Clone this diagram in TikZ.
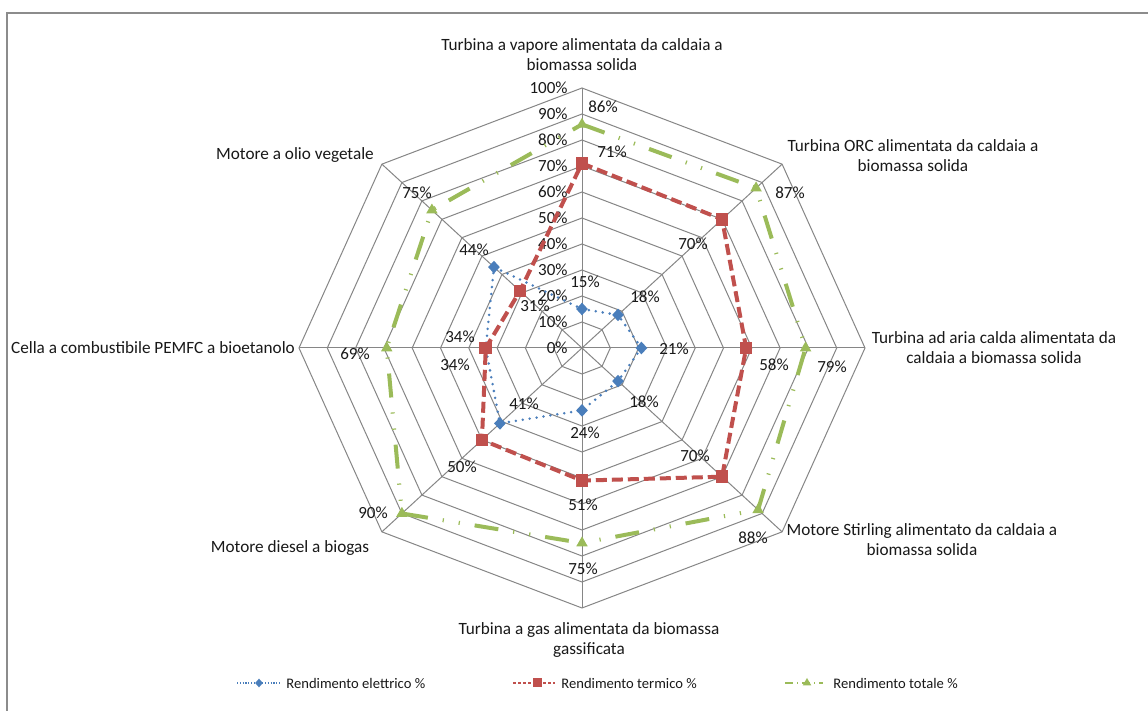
\documentclass[tikz,border=0pt]{standalone}
\usepackage{fontspec}
\setmainfont{Carlito}
\usetikzlibrary{shapes.geometric}

\definecolor{gridgray}{RGB}{134,134,134}
\definecolor{framegray}{RGB}{140,140,140}
\definecolor{elblue}{RGB}{74,126,187}
\definecolor{thred}{RGB}{192,80,77}
\definecolor{totgreen}{RGB}{155,187,89}
\definecolor{txt}{RGB}{25,25,25}

\tikzset{
  gridline/.style={draw=gridgray, line width=0.5pt},
  frameline/.style={draw=framegray, line width=0.8pt},
  elline/.style={draw=elblue, line width=1.4pt, line cap=round, dash pattern=on 0pt off 3.5pt},
  thline/.style={draw=thred, line width=2pt, dash pattern=on 5.5pt off 2.5pt},
  totline/.style={draw=totgreen, line width=2pt, dash pattern=on 12pt off 7.5pt on 0.6pt off 7.5pt on 0.6pt off 7.5pt},
  elmark/.style={shape=diamond, fill=elblue, inner sep=0pt, minimum width=6pt, minimum height=6.5pt},
  thmark/.style={shape=rectangle, fill=thred, inner sep=0pt, minimum size=6.3pt},
  totmark/.style={shape=regular polygon, regular polygon sides=3, fill=totgreen, inner sep=0pt, minimum size=6.6pt},
  vallabel/.style={font=\fontsize{8.5}{10}\selectfont, text=txt, inner sep=0pt},
  ticklabel/.style={font=\fontsize{8.5}{10}\selectfont, text=txt, inner sep=0pt, anchor=east},
  catlabel/.style={font=\fontsize{8.6}{10}\selectfont, text=txt, inner sep=0pt, align=center},
  legtext/.style={font=\fontsize{7.3}{8}\selectfont, text=txt, inner sep=0pt, anchor=west},
}

\begin{document}
\begin{tikzpicture}[x=0.5pt, y=-0.5pt]
\useasboundingbox (0,0) rectangle (1148,711);
\fill[white] (0,0) rectangle (1148,711);

% chart area frame
\draw[frameline] (7,711) -- (7,13) -- (1148,13);

% octagonal grid, 10 rings
\foreach \i in {1,...,10}{
  \draw[gridline] (582,{348-26*\i})
    \foreach \k in {1,...,7}{ -- ({582+28.3*\i*cos(90-45*\k)},{348-26*\i*sin(90-45*\k)}) } -- cycle;
}
% spokes
\foreach \k in {0,...,7}{
  \coordinate (ax\k) at ({582+283*cos(90-45*\k)},{348-260*sin(90-45*\k)});
  \draw[gridline] (582,348) -- (ax\k);
}

% radial tick labels
\foreach \i in {0,...,10}{
  \pgfmathtruncatemacro{\pc}{10*\i}
  \node[ticklabel] (tick\i) at (568,{348-26*\i}) {\pc\%};
}

% data points
\foreach \v [count=\k from 0] in {15,18,21,18,24,41,34,44}{
  \coordinate (e\k) at ({582+2.83*\v*cos(90-45*\k)},{348-2.60*\v*sin(90-45*\k)});
}
\foreach \v [count=\k from 0] in {71,70,58,70,51,50,34,31}{
  \coordinate (t\k) at ({582+2.83*\v*cos(90-45*\k)},{348-2.60*\v*sin(90-45*\k)});
}
\foreach \v [count=\k from 0] in {86,87,79,88,75,90,69,75}{
  \coordinate (g\k) at ({582+2.83*\v*cos(90-45*\k)},{348-2.60*\v*sin(90-45*\k)});
}

% series: electrical efficiency
\draw[elline] (e0) -- (e1) -- (e2) -- (e3) -- (e4) -- (e5) -- (e6) -- (e7) -- cycle;
\foreach \k in {0,...,7}{ \node[elmark] (em\k) at (e\k) {}; }

% series: thermal efficiency
\draw[thline] (t0) -- (t1) -- (t2) -- (t3) -- (t4) -- (t5) -- (t6) -- (t7) -- cycle;
\foreach \k in {0,...,7}{ \node[thmark] (tm\k) at (t\k) {}; }

% series: total efficiency
\draw[totline] (g0) -- (g1) -- (g2) -- (g3) -- (g4) -- (g5) -- (g6) -- (g7) -- cycle;
\foreach \k in {0,...,7}{ \node[totmark] (gm\k) at (g\k) {}; }

% data labels
\node[vallabel] (le0) at (585,282) {15\%};
\node[vallabel] (le1) at (645,297) {18\%};
\node[vallabel] (le2) at (674,349) {21\%};
\node[vallabel] (le3) at (644,402) {18\%};
\node[vallabel] (le4) at (585,433) {24\%};
\node[vallabel] (le5) at (524,404) {41\%};
\node[vallabel] (le6) at (455,365) {34\%};
\node[vallabel] (le7) at (474,250) {44\%};

\node[vallabel] (lt0) at (612,152) {71\%};
\node[vallabel] (lt1) at (693,244) {70\%};
\node[vallabel] (lt2) at (774,365) {58\%};
\node[vallabel] (lt3) at (695,456) {70\%};
\node[vallabel] (lt4) at (583,505) {51\%};
\node[vallabel] (lt5) at (462,467) {50\%};
\node[vallabel] (lt6) at (460,337) {34\%};
\node[vallabel] (lt7) at (535,306) {31\%};

\node[vallabel] (lg0) at (603,107) {86\%};
\node[vallabel] (lg1) at (790,193) {87\%};
\node[vallabel] (lg2) at (832,367) {79\%};
\node[vallabel] (lg3) at (753,538) {88\%};
\node[vallabel] (lg4) at (583,569) {75\%};
\node[vallabel] (lg5) at (373,513) {90\%};
\node[vallabel] (lg6) at (355,354) {69\%};
\node[vallabel] (lg7) at (417,193) {75\%};

% category labels
\node[catlabel] (c0) at (582,55) {Turbina a vapore alimentata da caldaia a\\biomassa solida};
\node[catlabel] (c1) at (913,156) {Turbina ORC alimentata da caldaia a\\biomassa solida};
\node[catlabel] (c2) at (994,348) {Turbina ad aria calda alimentata da\\caldaia a biomassa solida};
\node[catlabel] (c3) at (922,540) {Motore Stirling alimentato da caldaia a\\biomassa solida};
\node[catlabel] (c4) at (589,640) {Turbina a gas alimentata da biomassa\\gassificata};
\node[catlabel] (c5) at (290,548) {Motore diesel a biogas};
\node[catlabel] (c6) at (153,348) {Cella a combustibile PEMFC a bioetanolo};
\node[catlabel] (c7) at (295,155) {Motore a olio vegetale};

% legend
\coordinate (la0) at (237,683); \coordinate (la1) at (280,683);
\draw[draw=elblue, line width=0.6pt, dash pattern=on 0.6pt off 0.8pt] (la0) -- (la1);
\node[elmark, minimum width=4pt, minimum height=4.5pt] (lm0) at (259,683) {};
\node[legtext] (lx0) at (286,683) {Rendimento elettrico \%};

\coordinate (lb0) at (513,683); \coordinate (lb1) at (555,683);
\draw[draw=thred, line width=0.6pt, dash pattern=on 1.5pt off 1pt] (lb0) -- (lb1);
\node[thmark, minimum size=4.5pt] (lm1) at (537,683) {};
\node[legtext] (lx1) at (561,683) {Rendimento termico \%};

\coordinate (lc0) at (785,683); \coordinate (lc1) at (823,683);
\draw[draw=totgreen, line width=0.6pt, dash pattern=on 4pt off 2pt on 0.6pt off 2pt] (lc0) -- (lc1);
\node[totmark, minimum size=5pt] (lm2) at (807,683) {};
\node[legtext] (lx2) at (833,683) {Rendimento totale \%};
\end{tikzpicture}
\end{document}
